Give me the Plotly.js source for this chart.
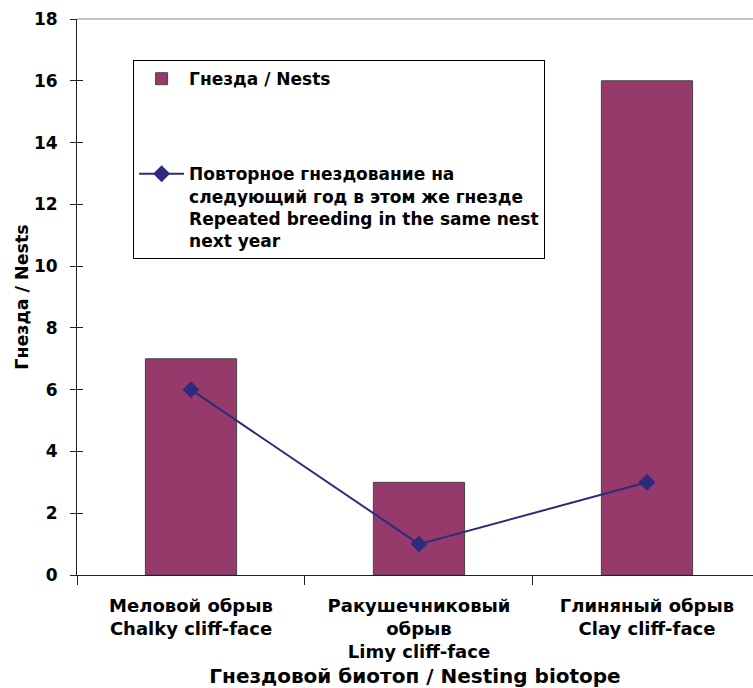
<!DOCTYPE html>
<html>
<head>
<meta charset="utf-8">
<script src="https://cdn.plot.ly/plotly-3.0.1.min.js"></script>
<style>
  html, body { margin: 0; padding: 0; background: #fff; }
  #chart { width: 753px; height: 688px; }
</style>
</head>
<body>
<div id="chart"></div>
<script>
// Nesting biotopes (Russian / English)
const categories = [
  'Меловой обрыв<br>Chalky cliff-face',
  'Ракушечниковый<br>обрыв<br>Limy cliff-face',
  'Глиняный обрыв<br>Clay cliff-face'
];
// Number of nests per biotope
const nests = [7, 3, 16];
// Nests reused for breeding the following year
const repeated = [6, 1, 3];

const nestsName = 'Гнезда / Nests';
const repeatedName = 'Повторное гнездование на<br>следующий год в этом же гнезде<br>Repeated breeding in the same nest<br>next year';
const yTicks = [0, 2, 4, 6, 8, 10, 12, 14, 16, 18];

const font = 'DejaVu Sans, Arial, sans-serif';

const traces = [
  {
    type: 'bar',
    x: categories,
    y: nests,
    name: nestsName,
    legendgroup: 'a',
    width: 0.4,
    marker: { color: '#953a6b', line: { color: '#444', width: 1 } }
  },
  {
    type: 'scatter',
    mode: 'lines+markers',
    x: categories,
    y: repeated,
    name: repeatedName,
    legendgroup: 'b',
    line: { color: '#2e2b7d', width: 2 },
    marker: { symbol: 'diamond', size: 13, color: '#2e2b7d' }
  },
  // transparent carrier so the inner half of the y ticks gets drawn
  {
    type: 'scatter',
    x: categories,
    y: nests,
    yaxis: 'y2',
    mode: 'markers',
    marker: { opacity: 0 },
    showlegend: false,
    hoverinfo: 'skip'
  }
];

const layout = {
  width: 753,
  height: 688,
  margin: { l: 77, r: 0, t: 19, b: 113 },
  paper_bgcolor: '#fff',
  plot_bgcolor: '#fff',
  showlegend: true,
  xaxis: {
    type: 'category',
    range: [-0.5, 2.465],
    tickson: 'boundaries',
    ticks: 'outside',
    ticklen: 9,
    tickcolor: '#222',
    ticklabelstandoff: 14,
    showline: true,
    linecolor: '#222',
    linewidth: 1,
    showgrid: false,
    zeroline: false,
    tickfont: { family: font, size: 18, color: '#000', weight: 'bold' },
    title: {
      text: 'Гнездовой биотоп / Nesting biotope',
      font: { family: font, size: 20, color: '#000', weight: 'bold' },
      standoff: 8
    }
  },
  yaxis: {
    range: [0, 18],
    tickvals: yTicks,
    ticks: 'outside',
    ticklen: 6,
    tickcolor: '#222',
    ticklabelstandoff: 9,
    showline: true,
    linecolor: '#222',
    linewidth: 1,
    showgrid: false,
    zeroline: false,
    tickfont: { family: font, size: 17, color: '#000', weight: 'bold' },
    title: {
      text: 'Гнезда / Nests',
      font: { family: font, size: 17.5, color: '#000', weight: 'bold' },
      standoff: 0
    }
  },
  yaxis2: {
    overlaying: 'y',
    anchor: 'x',
    side: 'left',
    range: [0, 18],
    tickvals: yTicks,
    ticks: 'inside',
    ticklen: 6,
    tickcolor: '#222',
    showticklabels: false,
    showline: false,
    showgrid: false,
    zeroline: false
  },
  legend: {
    x: 0.083,
    y: 0.926,
    xanchor: 'left',
    yanchor: 'top',
    bgcolor: '#fff',
    bordercolor: '#000',
    borderwidth: 1,
    traceorder: 'grouped',
    tracegroupgap: 70,
    valign: 'top',
    itemwidth: 45,
    font: { family: font, size: 17, color: '#000', weight: 'bold' }
  },
  shapes: [
    {
      type: 'line', xref: 'paper', yref: 'paper',
      x0: 0, x1: 1, y0: 1, y1: 1,
      line: { color: '#888', width: 1 }
    }
  ]
};

Plotly.newPlot('chart', traces, layout, { displayModeBar: false, staticPlot: true });
</script>
</body>
</html>
